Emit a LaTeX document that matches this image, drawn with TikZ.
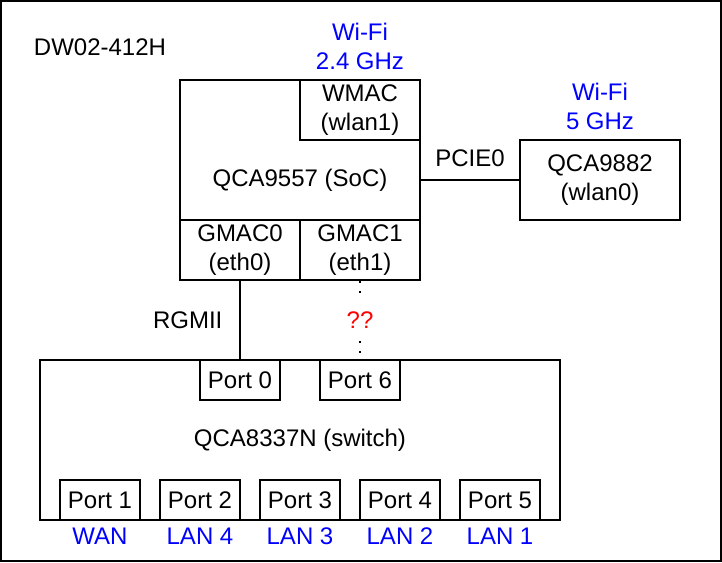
\documentclass[tikz,border=0pt]{standalone}
\usepackage{fontspec}
\setmainfont{Liberation Sans}
\usetikzlibrary{positioning, calc}
\tikzset{
  board/.style={
	x=0.5pt, y=-0.5pt, % one unit is one pixel of the reference drawing
	line width=1pt, % all frames and links
	font=\fontsize{12}{14.5}\selectfont,
	every node/.style={align=center},
	block/.style={draw, rectangle, inner sep=0pt}, % chips and blocks
	unit/.style={block, minimum width=60pt, minimum height=30pt}, % MAC blocks inside the SoC
	port/.style={block, minimum width=40pt, minimum height=20pt}, % switch ports
	radio/.style={text=blue}, % wifi and port names
	unknown/.style={dash pattern=on 1pt off 4pt}, % link nobody knows
  }
}

\begin{document}
\begin{tikzpicture}[board]
\useasboundingbox (0,0) rectangle (722,562);
\draw (1,1) rectangle (721,561);
\node (title) at (100,47) {DW02-412H};

% SoC and its MACs
\node[block, minimum width=120pt, minimum height=100pt] (soc) at (300,180) {QCA9557 (SoC)};
\node[unit, anchor=north east] (wmac) at (soc.north east) {WMAC\\(wlan1)};
\node[unit, anchor=south west] (gmac0) at (soc.south west) {GMAC0\\(eth0)};
\node[unit, anchor=south east] (gmac1) at (soc.south east) {GMAC1\\(eth1)};
\node[radio, above=1pt of wmac] (wifi24) {Wi-Fi\\2.4 GHz};

% second radio
\node[block, minimum width=80pt, minimum height=40pt, right=49pt of soc] (qca) {QCA9882\\(wlan0)};
\node[radio, above=1pt of qca] (wifi5) {Wi-Fi\\5 GHz};

% switch
\node[block, minimum width=260pt, minimum height=80pt, below=39pt of soc] (sw) {QCA8337N (switch)};
\node[port, anchor=north] (p0) at (gmac0.south |- sw.north) {Port 0};
\node[port, anchor=north] (p6) at (gmac1.south |- sw.north) {Port 6};
\node[port, anchor=south west] (p1) at ($(sw.south west)+(20,0)$) {Port 1};
\node[port, right=9pt of p1] (p2) {Port 2};
\node[port, right=9pt of p2] (p3) {Port 3};
\node[port, right=9pt of p3] (p4) {Port 4};
\node[port, right=9pt of p4] (p5) {Port 5};

\node[radio, below=-0.5pt of p1] (wan) {WAN};
\node[radio, below=-0.5pt of p2] (lan4) {LAN 4};
\node[radio, below=-0.5pt of p3] (lan3) {LAN 3};
\node[radio, below=-0.5pt of p4] (lan2) {LAN 2};
\node[radio, below=-0.5pt of p5] (lan1) {LAN 1};

\draw (soc.east) -- node[above=3pt] {PCIE0} (qca.west)
	(gmac0.south) -- node[left=5pt] {RGMII} (p0.north);
\draw[unknown] (gmac1.south) -- node[fill=white, text=red, inner sep=6pt] {??} (p6.north);
\end{tikzpicture}
\end{document}
